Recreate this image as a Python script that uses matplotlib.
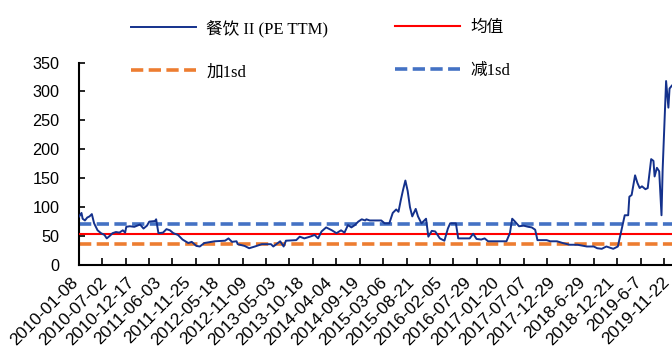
import pandas as pd
import matplotlib
matplotlib.use("Agg")
import matplotlib.pyplot as plt
import matplotlib.dates as mdates
from matplotlib.transforms import ScaledTranslation

# weekly PE (TTM) samples: weeks counted from 2010-01-08
weeks = [0, 2, 3, 5, 7, 9, 11, 13, 16, 19, 22, 24, 27, 29, 32, 35, 38, 40, 41, 44,
         48, 53, 56, 59, 61, 66, 67, 69, 73, 76, 79, 82, 86, 90, 95, 98, 102, 105, 109, 118,
         127, 130, 133, 137, 138, 144, 148, 153, 159, 167, 169, 175, 178, 180, 189, 192, 196, 201, 205, 208,
         211, 215, 220, 224, 228, 231, 234, 237, 240, 243, 246, 249, 250, 253, 263, 266, 270, 273, 276, 278,
         280, 282, 284, 286, 288, 290, 293, 295, 298, 302, 304, 307, 310, 314, 318, 321, 323, 328, 330, 340,
         343, 346, 350, 353, 356, 365, 372, 375, 377, 379, 383, 387, 391, 394, 397, 399, 407, 410, 416, 421,
         427, 434, 442, 448, 451, 455, 459, 465, 469, 471, 475, 478, 479, 481, 484, 486, 488, 490, 493, 495,
         498, 500, 501, 503, 505, 507, 508, 511, 513, 514, 516]
pe = [84, 90, 80, 77, 82, 84, 88, 72, 60, 55, 52, 46, 51, 55, 57, 56, 60, 56, 66, 67,
      66, 70, 63, 68, 75, 76, 79, 55, 56, 62, 60, 55, 52, 44, 38, 40, 33, 32, 38, 41,
      42, 46, 40, 41, 36, 33, 29, 32, 36, 36, 32, 41, 32, 42, 43, 49, 46, 49, 52, 46,
      58, 65, 60, 55, 60, 56, 69, 65, 69, 75, 79, 77, 79, 77, 77, 72, 72, 90, 96, 92,
      112, 130, 146, 128, 100, 84, 97, 84, 72, 80, 49, 59, 58, 46, 42, 63, 72, 72, 46, 46,
      54, 45, 44, 46, 41, 41, 41, 55, 80, 76, 67, 68, 66, 65, 61, 43, 43, 41, 41, 38,
      35, 35, 32, 32, 29, 28, 32, 28, 32, 50, 86, 86, 118, 121, 155, 142, 133, 136, 131, 133,
      183, 180, 153, 168, 162, 86, 165, 318, 272, 305, 310]

mean_pe = 53
plus_sd = 37
minus_sd = 71.5

tick_labels = ["2010-01-08", "2010-07-02", "2010-12-17", "2011-06-03", "2011-11-25",
               "2012-05-18", "2012-11-09", "2013-05-03", "2013-10-18", "2014-04-04",
               "2014-09-19", "2015-03-06", "2015-08-21", "2016-02-05", "2016-07-29",
               "2017-01-20", "2017-07-07", "2017-12-29", "2018-6-29", "2018-12-21",
               "2019-6-7", "2019-11-22"]

start = pd.Timestamp("2010-01-08")
dates = [start + pd.Timedelta(days=7 * w) for w in weeks]
label_dates = [pd.Timestamp(s) for s in tick_labels]

fig = plt.figure(figsize=(6.72, 3.54), dpi=100)
ax = fig.add_axes([0.1176, 0.2514, 0.8824, 0.572])

l1, = ax.plot(dates, pe, color="#14318C", lw=1.4, zorder=4)
l2 = ax.axhline(plus_sd, color="#ED7D31", lw=2.6, dashes=(3.4, 1.5), zorder=2)
l3 = ax.axhline(mean_pe, color="#FF0000", lw=1.5, zorder=3)
l4 = ax.axhline(minus_sd, color="#4472C4", lw=2.6, dashes=(3.4, 1.5), zorder=2)

ax.set_ylim(0, 350)
ax.set_yticks(range(0, 351, 50))
ax.set_xlim(start - pd.Timedelta(days=1), start + pd.Timedelta(days=3613))

# labels every ~24 weeks, small inward tick marks on a separate spacing
ax.set_xticks(label_dates)
ax.set_xticklabels(tick_labels, rotation=45, ha="right", rotation_mode="anchor")
x0 = mdates.date2num(start)
ax.set_xticks([x0 + 140 + 142.7 * k for k in range(25)], minor=True)
ax.tick_params(axis="x", which="major", length=0, pad=7)
ax.tick_params(axis="x", which="minor", length=5, width=1.2, direction="in")
ax.tick_params(axis="y", which="major", length=4, width=1.2, direction="in", pad=14)

shift = ScaledTranslation(-6.5 / 72, 0, fig.dpi_scale_trans)
for lab in ax.get_xticklabels():
    lab.set_fontfamily("Liberation Sans")
    lab.set_fontsize(12.5)
    lab.set_transform(lab.get_transform() + shift)
for lab in ax.get_yticklabels():
    lab.set_fontfamily("Liberation Sans")
    lab.set_fontsize(11.7)

for s in ["top", "right"]:
    ax.spines[s].set_visible(False)
for s in ["left", "bottom"]:
    ax.spines[s].set_linewidth(1.5)

font = {"family": ["Liberation Serif", "Noto Sans CJK SC"], "size": 12}
opts = dict(loc="upper left", frameon=False, handlelength=3.9, handletextpad=0.6,
            labelspacing=1.62, borderpad=0, prop=font)
leg1 = fig.legend([l1, l2], ["餐饮 II (PE TTM)", "加1sd"],
                  bbox_to_anchor=(0.183, 0.968), **opts)
leg2 = fig.legend([l3, l4], ["均值", "减1sd"],
                  bbox_to_anchor=(0.576, 0.968), **opts)

fig.savefig("out.png", dpi=100)
